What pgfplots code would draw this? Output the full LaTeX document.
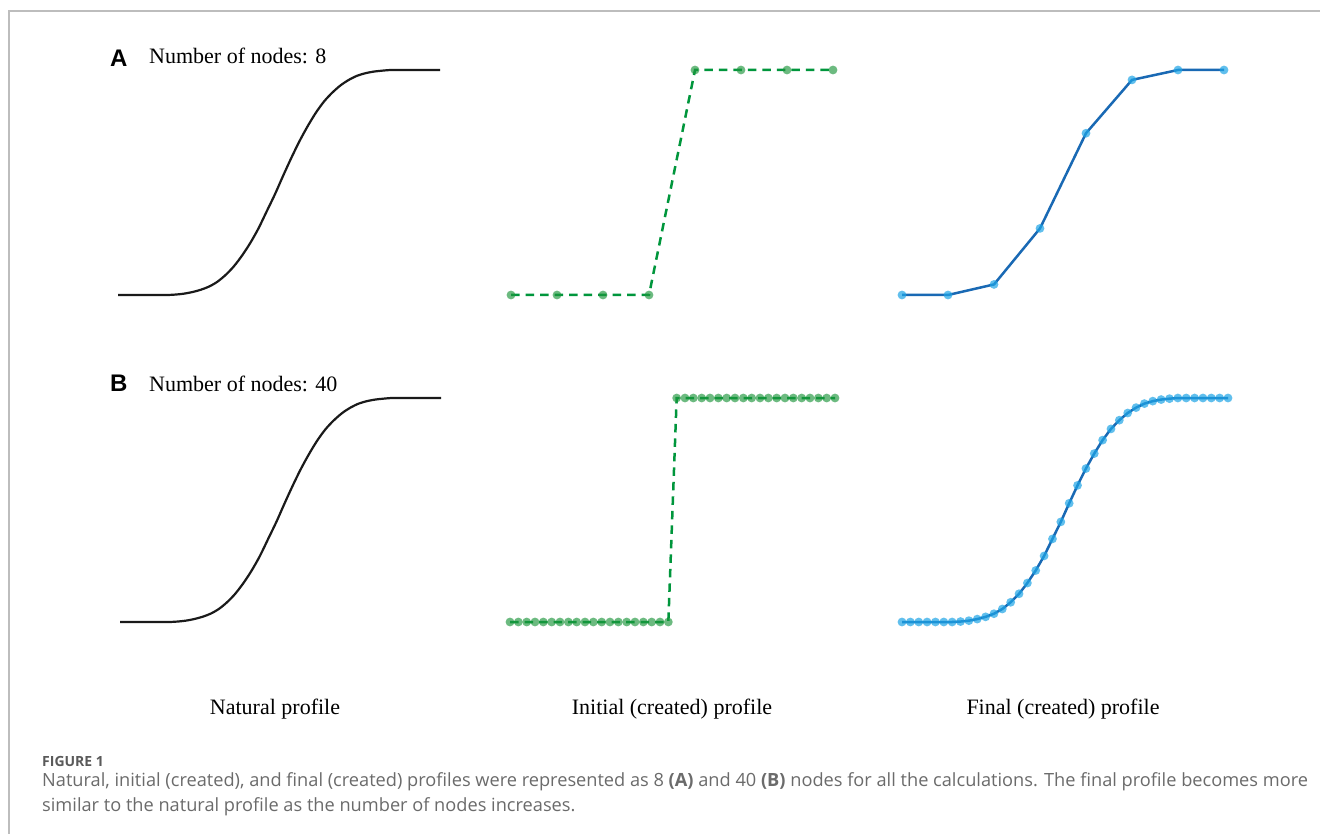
\documentclass[border=0pt]{standalone}
\usepackage{pgfplots}
\pgfplotsset{compat=1.18}
\usepackage{fontspec}
\setmainfont{Liberation Serif}
\newfontfamily\panelfont{Liberation Sans}
\newfontfamily\capfont{Open Sans}

\definecolor{natblack}{HTML}{1A1A1A}
\definecolor{initline}{RGB}{0,150,60}
\definecolor{initmark}{RGB}{30,150,60}
\definecolor{finline}{RGB}{25,105,180}
\definecolor{finmark}{RGB}{30,165,230}
\definecolor{framegray}{HTML}{BDBDBD}
\definecolor{captext}{HTML}{6B6B6B}
\definecolor{caphead}{HTML}{5A5A5A}

\pgfplotsset{
  profile/.style={hide axis, scale only axis, clip=false,
    ymin=0, ymax=1, anchor=south west},
  natural/.style={natblack, line width=2.2pt, smooth, tension=0.5, no markers},
  initial/.style={initline, line width=2.5pt, dash pattern=on 8.5pt off 6pt,
    mark=*, mark size=4.4pt,
    mark options={solid, fill=initmark, fill opacity=0.65, draw opacity=0}},
  final/.style={finline, line width=2.5pt,
    mark=*, mark size=4.4pt,
    mark options={fill=finmark, fill opacity=0.7, draw opacity=0}},
}

% natural profile, sampled at 40 nodes
\pgfplotstableread{
i v
0 0
1 0
2 0
3 0
4 0
5 0
6 0
7 0.002
8 0.006
9 0.013
10 0.023
11 0.037
12 0.058
13 0.088
14 0.126
15 0.174
16 0.230
17 0.295
18 0.371
19 0.447
20 0.530
21 0.610
22 0.685
23 0.752
24 0.812
25 0.862
26 0.901
27 0.933
28 0.957
29 0.975
30 0.986
31 0.993
32 0.997
33 1
34 1
35 1
36 1
37 1
38 1
39 1
}\natforty

% initial (step) profile, 40 nodes
\pgfplotstableread{
i v
0 0
1 0
2 0
3 0
4 0
5 0
6 0
7 0
8 0
9 0
10 0
11 0
12 0
13 0
14 0
15 0
16 0
17 0
18 0
19 0
20 1
21 1
22 1
23 1
24 1
25 1
26 1
27 1
28 1
29 1
30 1
31 1
32 1
33 1
34 1
35 1
36 1
37 1
38 1
39 1
}\initforty

\begin{document}
\begin{tikzpicture}[x=1pt,y=-1pt]
\path[use as bounding box] (0,0) rectangle (1320,834);
\fill[white] (0,0) rectangle (1320,834);
\draw[framegray, line width=1.3pt] (9,834) -- (9,11) -- (1320,11);

% ---- row A: 8 nodes ----
\begin{axis}[profile, at={(118pt,-295pt)}, width=322pt, height=225pt, xmin=0, xmax=39]
  \addplot[natural] table[x=i, y=v] {\natforty};
\end{axis}
\begin{axis}[profile, at={(511pt,-295pt)}, width=322pt, height=225pt, xmin=0, xmax=7]
  \addplot[initial] coordinates {(0,0) (1,0) (2,0) (3,0) (4,1) (5,1) (6,1) (7,1)};
\end{axis}
\begin{axis}[profile, at={(902pt,-295pt)}, width=322pt, height=225pt, xmin=0, xmax=7]
  \addplot[final] coordinates {(0,0) (1,0) (2,0.047) (3,0.296) (4,0.719) (5,0.956) (6,1) (7,1)};
\end{axis}

% ---- row B: 40 nodes ----
\begin{axis}[profile, at={(120pt,-622pt)}, width=321pt, height=224pt, xmin=0, xmax=39]
  \addplot[natural] table[x=i, y=v] {\natforty};
\end{axis}
\begin{axis}[profile, at={(510pt,-622pt)}, width=325pt, height=224pt, xmin=0, xmax=39]
  \addplot[initial] table[x=i, y=v] {\initforty};
\end{axis}
\begin{axis}[profile, at={(902pt,-622pt)}, width=326pt, height=224pt, xmin=0, xmax=39]
  \addplot[final] table[x=i, y=v] {\natforty};
\end{axis}

% panel headings
\node[anchor=base west, inner sep=0, font=\panelfont\bfseries\fontsize{24}{28}\selectfont] at (110,67) {A};
\node[anchor=base west, inner sep=0, font=\fontsize{22}{26}\selectfont] at (149,64) {Number of nodes: 8};
\node[anchor=base west, inner sep=0, font=\panelfont\bfseries\fontsize{24}{28}\selectfont] at (110,391) {B};
\node[anchor=base west, inner sep=0, font=\fontsize{22}{26}\selectfont] at (149,391) {Number of nodes: 40};

% column labels
\node[anchor=base, inner sep=0, font=\fontsize{22}{26}\selectfont] at (275,714) {Natural profile};
\node[anchor=base, inner sep=0, font=\fontsize{22}{26}\selectfont] at (672,714) {Initial (created) profile};
\node[anchor=base, inner sep=0, font=\fontsize{22}{26}\selectfont] at (1063,714) {Final (created) profile};

% caption
\node[anchor=base west, inner sep=0, text=caphead, font=\capfont\bfseries\fontsize{14}{16}\selectfont] at (42,766) {FIGURE 1};
\node[anchor=base west, inner sep=0, text=captext, font=\capfont\fontsize{18.2}{21}\selectfont] at (42,786)
  {Natural, initial (created), and final (created) profiles were represented as 8 \textbf{(A)} and 40 \textbf{(B)} nodes for all the calculations. The final profile becomes more};
\node[anchor=base west, inner sep=0, text=captext, font=\capfont\fontsize{18.2}{21}\selectfont] at (42,811)
  {similar to the natural profile as the number of nodes increases.};
\end{tikzpicture}
\end{document}
